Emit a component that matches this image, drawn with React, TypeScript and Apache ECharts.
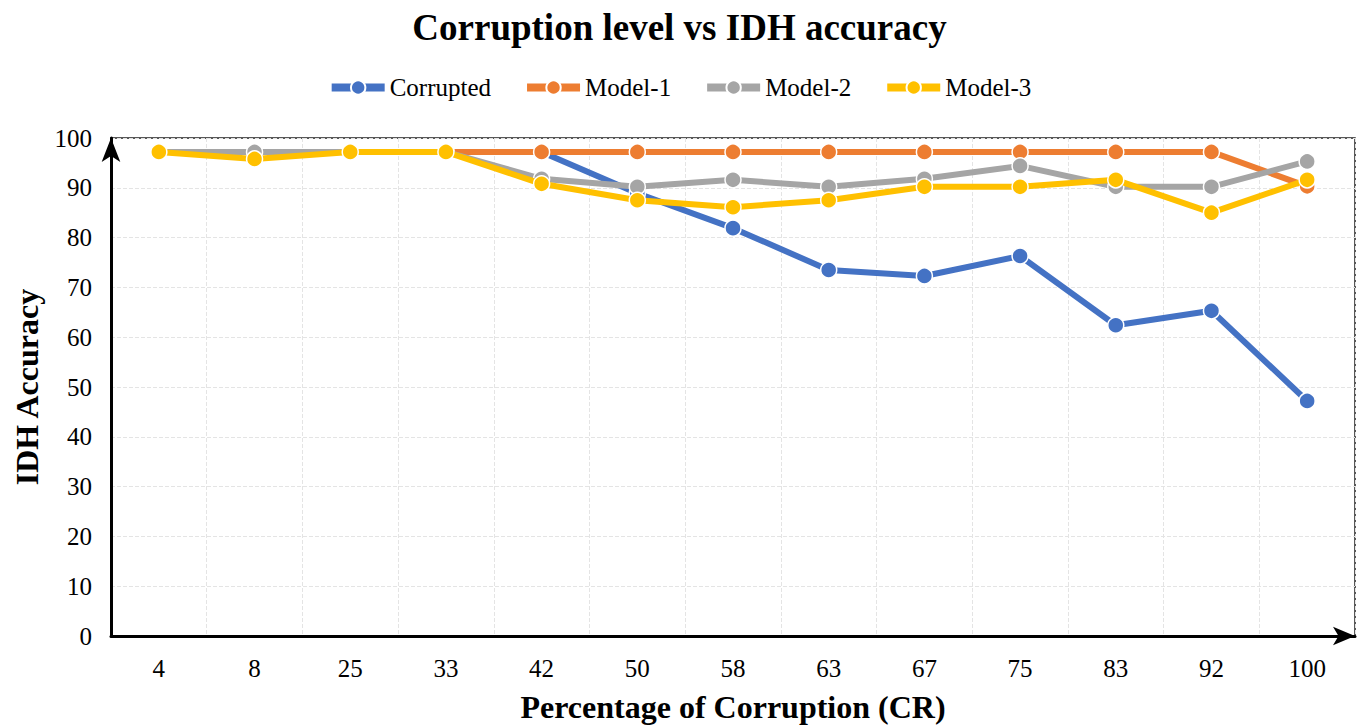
import React, { useEffect, useRef } from "react";
import * as echarts from "echarts";

const categories = ["4", "8", "25", "33", "42", "50", "58", "63", "67", "75", "83", "92", "100"];
const corrupted = [97.2, 97.2, 97.2, 97.2, 97.2, 88.9, 81.9, 73.5, 72.3, 76.3, 62.4, 65.3, 47.2];
const model1 = [97.2, 97.2, 97.2, 97.2, 97.2, 97.2, 97.2, 97.2, 97.2, 97.2, 97.2, 97.2, 90.3];
const model2 = [97.2, 97.2, 97.2, 97.2, 91.8, 90.2, 91.6, 90.2, 91.8, 94.4, 90.2, 90.2, 95.3];
const model3 = [97.2, 95.8, 97.2, 97.2, 90.8, 87.5, 86.1, 87.5, 90.2, 90.2, 91.6, 85.0, 91.6];
const seriesNames = ["Corrupted", "Model-1", "Model-2", "Model-3"];
const seriesColors = ["#4472C4", "#ED7D31", "#A5A5A5", "#FFC000"];

const FONT = '"Liberation Serif", "Times New Roman", serif';

export default function App() {
  const ref = useRef<HTMLDivElement>(null);
  useEffect(() => {
    if (!ref.current) return;
    const chart = echarts.init(ref.current, null, { renderer: "svg" });
    const datasets = [corrupted, model1, model2, model3];
    chart.setOption({
      animation: false,
      backgroundColor: "#ffffff",
      title: {
        text: "Corruption level vs IDH accuracy",
        left: "center",
        top: 4,
        textStyle: { fontFamily: FONT, fontSize: 37, fontWeight: "bold", color: "#000" },
      },
      legend: {
        top: 70,
        left: "center",
        itemWidth: 53,
        itemHeight: 18,
        itemGap: 32,
        lineStyle: { width: 8 },
        textStyle: { fontFamily: FONT, fontSize: 25, color: "#000" },
        data: seriesNames,
      },
      grid: {
        left: 111,
        right: 4,
        top: 138,
        bottom: 89,
        outerBoundsMode: "none",
        containLabel: false,
        show: true,
        borderColor: "#222",
        borderWidth: 1.5,
      },
      xAxis: {
        type: "category",
        data: categories,
        boundaryGap: true,
        name: "Percentage of Corruption (CR)",
        nameLocation: "middle",
        nameGap: 55,
        nameTextStyle: { fontFamily: FONT, fontSize: 32, fontWeight: "bold", color: "#000" },
        axisLine: {
          show: true,
          symbol: ["none", "arrow"],
          symbolSize: [14, 22],
          lineStyle: { color: "#000", width: 3 },
        },
        axisTick: { show: false },
        axisLabel: { fontFamily: FONT, fontSize: 25, color: "#000", margin: 20 },
        splitLine: { show: true, lineStyle: { color: "#e4e4e4", type: "dashed", width: 1 } },
      },
      yAxis: {
        type: "value",
        min: 0,
        max: 100,
        interval: 10,
        name: "IDH Accuracy",
        nameLocation: "middle",
        nameGap: 68,
        nameTextStyle: { fontFamily: FONT, fontSize: 32, fontWeight: "bold", color: "#000" },
        axisLine: {
          show: true,
          symbol: ["none", "arrow"],
          symbolSize: [14, 24],
          lineStyle: { color: "#000", width: 3 },
        },
        axisTick: { show: false },
        axisLabel: { fontFamily: FONT, fontSize: 25, color: "#000", margin: 19 },
        splitLine: { show: true, lineStyle: { color: "#e4e4e4", type: "dashed", width: 1 } },
      },
      series: datasets.map((d, i) => ({
        name: seriesNames[i],
        type: "line",
        data: d,
        symbol: "circle",
        symbolSize: 16,
        z: 2 + i,
        lineStyle: { color: seriesColors[i], width: 6 },
        itemStyle: { color: seriesColors[i], borderColor: "#fff", borderWidth: 1.5 },
      })),
    });
    return () => chart.dispose();
  }, []);
  return (
    <div
      ref={ref}
      style={{ position: "fixed", left: 0, top: 0, width: 1359, height: 725 }}
    />
  );
}
